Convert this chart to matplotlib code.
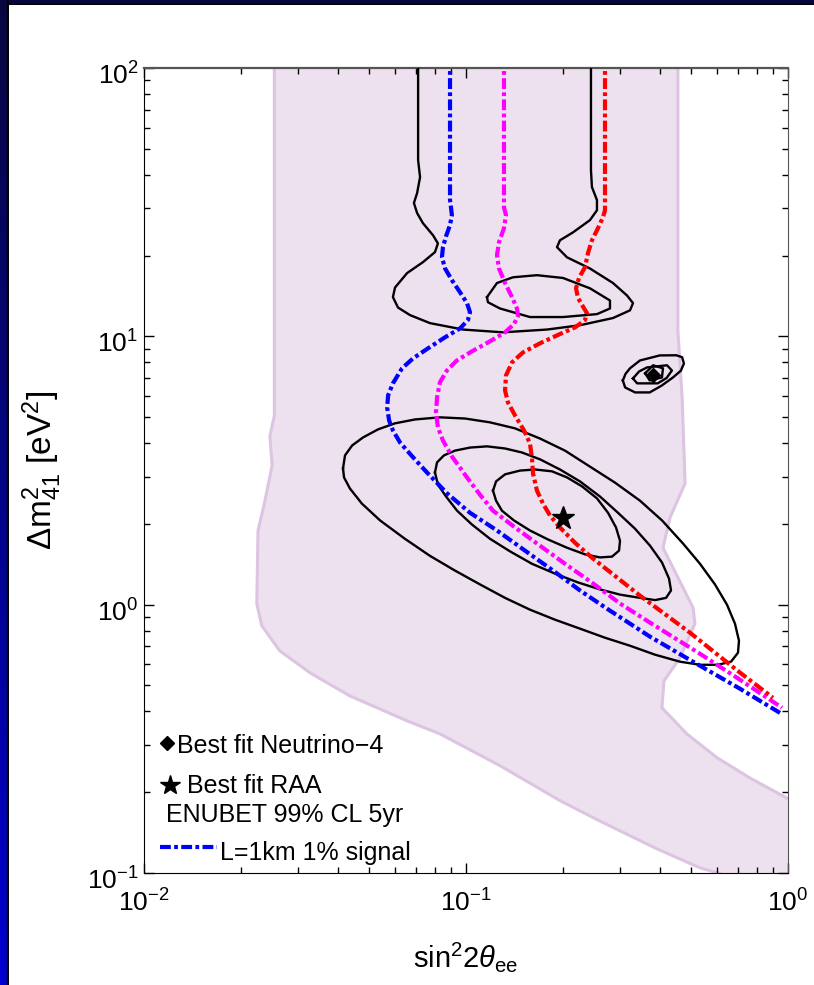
import numpy as np
import matplotlib
matplotlib.use("Agg")
import matplotlib.pyplot as plt
from matplotlib.patches import Polygon
from matplotlib.transforms import ScaledTranslation

plt.rcParams['font.family'] = ['Liberation Sans', 'DejaVu Sans']
plt.rcParams['mathtext.fontset'] = 'custom'
plt.rcParams['mathtext.rm'] = 'Liberation Sans'
plt.rcParams['mathtext.it'] = 'Liberation Sans:italic'
plt.rcParams['mathtext.bf'] = 'Liberation Sans:bold'

# shaded allowed band, outline traced clockwise (sin^2 2theta, dm^2)
band_s2 = [0.0254, 0.455, 0.455, 0.469, 0.479, 0.430, 0.421, 0.409, 0.507, 0.514,
           0.462, 0.412, 0.406, 0.485, 0.602, 0.762, 0.993, 1.3, 1.3, 1.09,
           0.615, 0.533, 0.392, 0.261, 0.196, 0.1276, 0.083, 0.0656, 0.0436, 0.0328,
           0.0264, 0.0232, 0.0224, 0.0226, 0.0237, 0.025, 0.0246, 0.0254]
band_dm2 = [150, 150, 10.5, 5.92, 2.83, 2.11, 1.89, 1.63, 0.975, 0.85,
            0.634, 0.52, 0.413, 0.330, 0.269, 0.226, 0.190, 0.17, 0.07, 0.0787,
            0.0995, 0.1045, 0.123, 0.156, 0.186, 0.251, 0.330, 0.369, 0.457, 0.557,
            0.673, 0.836, 1.01, 1.89, 2.41, 3.30, 4.24, 5.07]

# open contour reaching the top of the plot
top_s2 = [0.0710, 0.0710, 0.0720, 0.0705, 0.0689, 0.0705, 0.0735, 0.0790, 0.0818, 0.0801,
          0.0735, 0.0656, 0.0602, 0.0593, 0.0615, 0.0670, 0.0773, 0.0979, 0.1302, 0.1785,
          0.2259, 0.2861, 0.3231, 0.3301, 0.3162, 0.2861, 0.2426, 0.2059, 0.1917, 0.1958,
          0.2149, 0.2426, 0.2551, 0.2551, 0.2461, 0.2444, 0.2444]
top_dm2 = [120, 45.4, 39.2, 34.2, 31.4, 28.8, 26.4, 23.8, 22.2, 20.6,
           18.9, 17.2, 15.2, 14.0, 12.8, 12.0, 11.2, 10.6, 10.35, 10.6,
           11.0, 11.7, 12.5, 13.3, 14.2, 15.8, 17.9, 19.7, 21.5, 22.8,
           24.4, 27.1, 29.5, 32.2, 36.0, 41.6, 120]

# small island near dm^2 ~ 14 eV^2
isl_s2 = [0.1162, 0.1248, 0.1400, 0.1661, 0.2001, 0.2426, 0.2800, 0.2800, 0.2551, 0.2001,
          0.1580, 0.1275, 0.1170, 0.1162]
isl_dm2 = [14.0, 15.8, 16.6, 16.9, 16.5, 15.1, 13.6, 12.7, 12.1, 11.8,
           11.8, 12.7, 13.4, 14.0]

# RAA contours around the best fit
raa1_s2 = [0.1213, 0.1240, 0.1322, 0.1472, 0.1637, 0.1849, 0.2059, 0.2292, 0.2551, 0.2761,
           0.2923, 0.3008, 0.2987, 0.2841, 0.2606, 0.2342, 0.2059, 0.1797, 0.1580, 0.1409,
           0.1293, 0.1240, 0.1213]
raa1_dm2 = [2.66, 2.88, 3.06, 3.16, 3.19, 3.14, 2.98, 2.76, 2.49, 2.20,
            1.94, 1.73, 1.59, 1.51, 1.50, 1.54, 1.63, 1.75, 1.89, 2.06,
            2.24, 2.44, 2.66]
raa2_s2 = [0.0801, 0.0813, 0.0854, 0.0924, 0.1029, 0.1162, 0.1322, 0.1493, 0.1698, 0.1958,
           0.2259, 0.2606, 0.2965, 0.3347, 0.3727, 0.4063, 0.4271, 0.4332, 0.4181, 0.3864,
           0.3471, 0.3008, 0.2606, 0.2228, 0.1890, 0.1603, 0.1370, 0.1187, 0.1043, 0.0938,
           0.0867, 0.0818, 0.0801]
raa2_dm2 = [3.11, 3.39, 3.60, 3.75, 3.85, 3.89, 3.82, 3.69, 3.48, 3.19,
            2.88, 2.53, 2.20, 1.92, 1.66, 1.435, 1.25, 1.13, 1.06, 1.04,
            1.06, 1.09, 1.14, 1.21, 1.305, 1.42, 1.58, 1.76, 1.99, 2.24,
            2.53, 2.80, 3.11]
raa3_s2 = [0.0415, 0.0421, 0.0443, 0.0479, 0.0533, 0.0602, 0.0694, 0.0830, 0.0993, 0.1187,
           0.1420, 0.1698, 0.2030, 0.2426, 0.2902, 0.3471, 0.4063, 0.4720, 0.5330, 0.5931,
           0.6464, 0.6845, 0.7043, 0.6993, 0.6653, 0.6060, 0.5330, 0.4620, 0.3864, 0.3231,
           0.2702, 0.2259, 0.1890, 0.1580, 0.1322, 0.1105, 0.0924, 0.0773, 0.0646, 0.0541,
           0.0475, 0.0436, 0.0418, 0.0415]
raa3_dm2 = [3.22, 3.60, 3.92, 4.20, 4.50, 4.74, 4.90, 4.99, 4.94, 4.78,
            4.54, 4.16, 3.75, 3.27, 2.85, 2.44, 2.06, 1.69, 1.42, 1.19,
            1.00, 0.849, 0.734, 0.662, 0.613, 0.597, 0.597, 0.613, 0.651, 0.703,
            0.753, 0.814, 0.879, 0.958, 1.06, 1.19, 1.34, 1.52, 1.76, 2.06,
            2.38, 2.71, 2.98, 3.22]

# Neutrino-4 contours
n4a_s2 = [0.360, 0.381, 0.409, 0.406, 0.372, 0.360]
n4a_dm2 = [7.28, 7.80, 7.60, 7.03, 6.85, 7.28]
n4b_s2 = [0.330, 0.345, 0.365, 0.421, 0.436, 0.420, 0.394, 0.340, 0.330]
n4b_dm2 = [6.97, 7.40, 7.66, 7.80, 7.46, 7.00, 6.68, 6.68, 6.97]
n4c_s2 = [0.307, 0.313, 0.323, 0.347, 0.400, 0.450, 0.469, 0.475, 0.465, 0.4395,
          0.405, 0.372, 0.335, 0.312, 0.307]
n4c_dm2 = [6.85, 7.25, 7.60, 8.13, 8.49, 8.50, 8.36, 7.92, 7.45, 7.03,
           6.55, 6.18, 6.18, 6.45, 6.85]

# ENUBET 99% CL sensitivity curves
blue_s2 = [0.0892, 0.0892, 0.0898, 0.0904, 0.0892, 0.0867, 0.0848, 0.0842, 0.0861, 0.0904,
           0.0958, 0.1007, 0.1029, 0.1014, 0.0958, 0.0861, 0.0762, 0.0685, 0.0633, 0.0593,
           0.0573, 0.0569, 0.0577, 0.0593, 0.0624, 0.0685, 0.0762, 0.0873, 0.1029, 0.1248,
           0.1525, 0.1863, 0.2259, 0.2741, 0.3727, 0.5330, 0.7096, 0.9445]
blue_dm2 = [110, 32.2, 30.3, 28.3, 26.0, 23.6, 21.5, 19.7, 17.9, 16.2,
            14.6, 13.3, 12.3, 11.5, 10.7, 9.92, 9.02, 8.28, 7.60, 6.68,
            6.03, 5.43, 4.86, 4.46, 4.02, 3.54, 3.08, 2.60, 2.20, 1.89,
            1.59, 1.34, 1.13, 0.966, 0.760, 0.592, 0.486, 0.395]
mag_s2 = [0.1312, 0.1312, 0.1331, 0.1312, 0.1266, 0.1248, 0.1266, 0.1322, 0.1390, 0.1440,
          0.1450, 0.1409, 0.1322, 0.1187, 0.1043, 0.0938, 0.0873, 0.0830, 0.0813, 0.0807,
          0.0818, 0.0848, 0.0904, 0.1007, 0.1105, 0.1213, 0.1420, 0.1661, 0.2030, 0.2480,
          0.3008, 0.3727, 0.5330, 0.7096, 0.958]
mag_dm2 = [110, 30.3, 28.3, 25.3, 22.4, 20.1, 17.9, 15.8, 14.0, 12.7,
           11.9, 11.1, 10.35, 9.58, 8.79, 8.14, 7.47, 6.74, 5.92, 5.21,
           4.58, 4.09, 3.57, 2.98, 2.57, 2.24, 1.94, 1.69, 1.42, 1.20,
           1.01, 0.857, 0.656, 0.525, 0.413]
red_s2 = [0.2702, 0.2702, 0.2663, 0.2570, 0.2461, 0.2392, 0.2342, 0.2243, 0.2196, 0.2228,
          0.2309, 0.2375, 0.2342, 0.2181, 0.1958, 0.1698, 0.1503, 0.1390, 0.1331, 0.1322,
          0.1350, 0.1420, 0.1514, 0.1580, 0.1603, 0.1615, 0.1661, 0.1734, 0.1823, 0.1958,
          0.2181, 0.2480, 0.2902, 0.3471, 0.4963, 0.7096, 0.898]
red_dm2 = [110, 29.5, 27.8, 25.3, 22.8, 20.4, 18.1, 16.5, 15.1, 13.9,
           12.9, 12.2, 11.5, 10.8, 10.2, 9.42, 8.71, 8.00, 7.15, 6.29,
           5.67, 5.07, 4.46, 3.99, 3.51, 3.08, 2.66, 2.38, 2.15, 1.94,
           1.70, 1.485, 1.28, 1.08, 0.786, 0.558, 0.450]

raa_best = (0.2, 2.1)
n4_best = (0.38, 7.15)

fig = plt.figure(figsize=(8.14, 9.85), dpi=100)
fig.patch.set_facecolor('white')

# slide frame: navy strip on top, blue gradient strip on the left
top = fig.add_axes([0, 980 / 985, 1, 5 / 985])
top.set_facecolor('#06063f')
top.set_xticks([])
top.set_yticks([])
for s in top.spines.values():
    s.set_visible(False)
top.axhline(0.1, color='black', lw=1.5)

side = fig.add_axes([0, 0, 9 / 814, 1])
grad = np.linspace(0, 1, 256)
cols = np.zeros((256, 1, 3))
cols[:, 0, 0] = 0.03 * (1 - grad)
cols[:, 0, 1] = 0.03 * (1 - grad)
cols[:, 0, 2] = 0.25 + 0.57 * grad
side.imshow(cols, aspect='auto', extent=[0, 1, 0, 1], origin='upper')
side.axvline(0.85, color='black', lw=2.5)
side.set_xlim(0, 1)
side.set_axis_off()

ax = fig.add_axes([144 / 814, 112 / 985, 644 / 814, 805 / 985])
ax.set_xscale('log')
ax.set_yscale('log')

band = Polygon(np.column_stack([band_s2, band_dm2]), closed=True,
               facecolor='#eee1ef', edgecolor='#dcc4e2', lw=2.2, zorder=1)
ax.add_patch(band)

for xs, ys in [(top_s2, top_dm2), (isl_s2, isl_dm2), (raa1_s2, raa1_dm2),
               (raa2_s2, raa2_dm2), (raa3_s2, raa3_dm2), (n4a_s2, n4a_dm2),
               (n4b_s2, n4b_dm2), (n4c_s2, n4c_dm2)]:
    ax.plot(xs, ys, color='black', lw=1.7, zorder=3, solid_joinstyle='round')

dd = (0, (2.6, 0.8, 0.9, 0.8))
ax.plot(blue_s2, blue_dm2, color='#0000ff', lw=3, ls=dd, zorder=4)
ax.plot(mag_s2, mag_dm2, color='#ff00ff', lw=3, ls=dd, zorder=4)
ax.plot(red_s2, red_dm2, color='#ff0000', lw=3, ls=dd, zorder=4)

ax.plot(*raa_best, marker='*', ms=17, color='black', zorder=5)
ax.plot(*n4_best, marker='D', ms=7, color='black', zorder=5)

ax.set_xlim(0.01, 1)
ax.set_ylim(0.1, 100)
ax.tick_params(which='both', direction='in', top=True, right=True, width=1)
ax.tick_params(which='major', length=7, labelsize=19)
ax.tick_params(axis='x', which='major', pad=12)
ax.tick_params(axis='y', which='major', pad=4)
ax.tick_params(which='minor', length=4)
for side_name in ['top', 'right']:
    ax.spines[side_name].set_color('#555555')
ax.spines['top'].set_linewidth(1.6)
for side_name in ['left', 'bottom']:
    ax.spines[side_name].set_color('black')

# y tick labels sit a little below their ticks
shift = ScaledTranslation(0, -4 / 72, fig.dpi_scale_trans)
for lab in ax.get_yticklabels():
    lab.set_transform(lab.get_transform() + shift)

ax.set_xlabel(r'sin$^2$2$\theta_{\rm ee}$', fontsize=21, va='center')
ax.xaxis.set_label_coords(0.5, -0.104)
ax.set_ylabel(r'$\Delta$m$^2_{41}$ [eV$^2$]', fontsize=24, va='center')
ax.yaxis.set_label_coords(-0.158, 0.5)

# hand-made key in the lower left corner
ax.plot(0.0357, 0.161, marker='D', ms=7.5, color='black', transform=ax.transAxes,
        clip_on=False, zorder=6)
ax.text(0.0512, 0.149, 'Best fit Neutrino\u22124', fontsize=18,
        transform=ax.transAxes, va='baseline', zorder=6)
ax.plot(0.0404, 0.1093, marker='*', ms=15, color='black', transform=ax.transAxes,
        clip_on=False, zorder=6)
ax.text(0.0668, 0.0994, 'Best fit RAA', fontsize=18,
        transform=ax.transAxes, va='baseline', zorder=6)
ax.text(0.0342, 0.0634, 'ENUBET 99% CL 5yr', fontsize=18,
        transform=ax.transAxes, va='baseline', zorder=6)
ax.plot([0.0248, 0.1134], [0.0323, 0.0323], color='#0000ff', lw=3, ls=dd,
        transform=ax.transAxes, zorder=6)
ax.text(0.118, 0.0161, 'L=1km 1% signal', fontsize=18,
        transform=ax.transAxes, va='baseline', zorder=6)

fig.savefig('out.png', dpi=100)
